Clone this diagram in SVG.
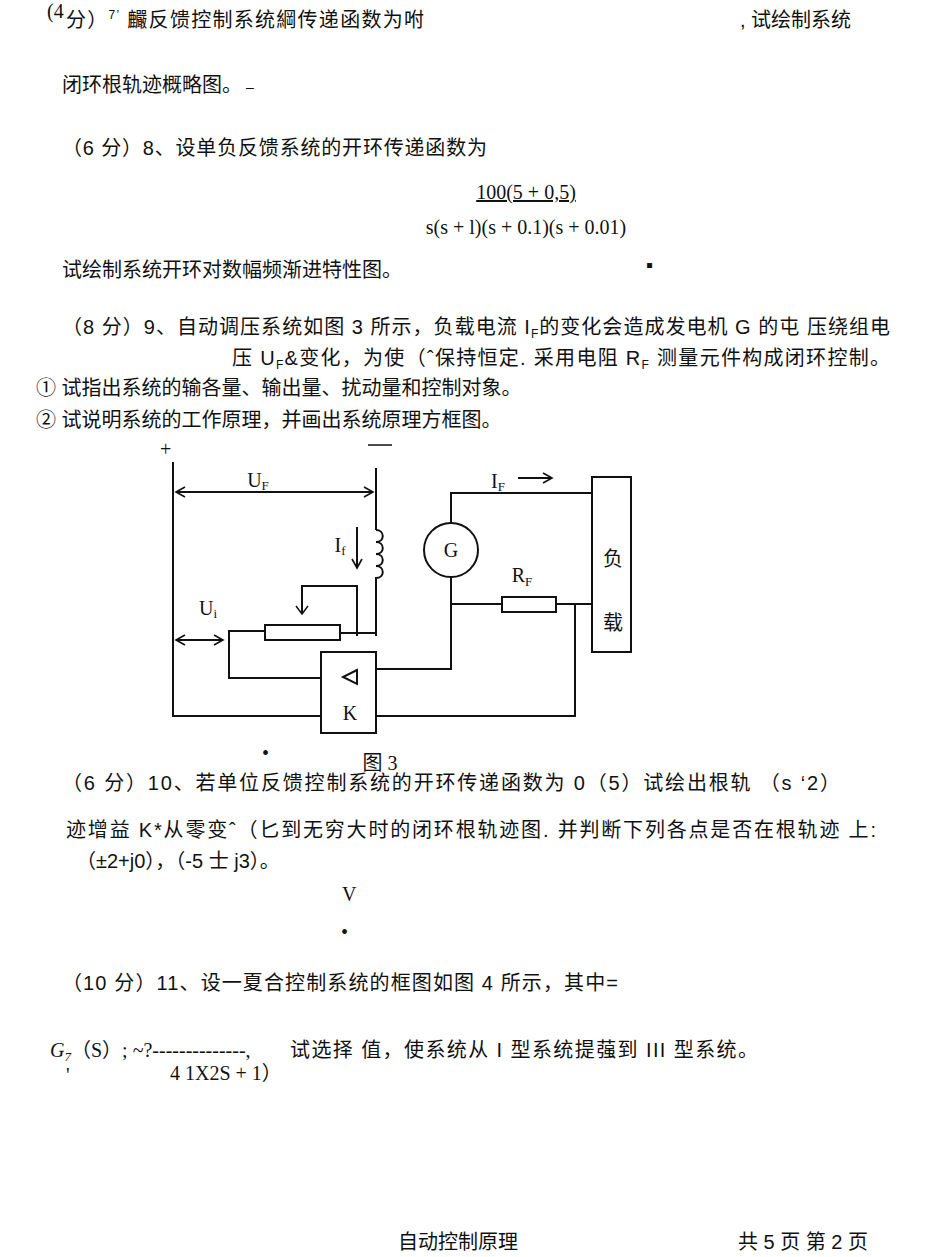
<svg xmlns="http://www.w3.org/2000/svg" width="950" height="1257" viewBox="0 0 950 1257">
<style>
.t{font-family:"Liberation Sans","Noto Sans CJK SC",sans-serif;font-size:20px;fill:#111}
.s{font-family:"Liberation Serif","Noto Sans CJK SC",serif;font-size:20px;fill:#111}
.w{fill:none;stroke:#111;stroke-width:2}
.c{font-family:"Liberation Serif","Noto Sans CJK SC",serif;font-size:20px;fill:#111;text-anchor:middle}
</style>
<defs><marker id="a" markerWidth="12" markerHeight="12" refX="10" refY="6" orient="auto-start-reverse" markerUnits="userSpaceOnUse"><path d="M1,1 L10,6 L1,11" fill="none" stroke="#111" stroke-width="1.6"/></marker></defs>
<rect width="950" height="1257" fill="#fff"/>
<g id="text">
<text class="s" x="47" y="18" font-size="11">(4</text>
<text class="t" x="66" y="27" textLength="358" lengthAdjust="spacing">分）<tspan font-size="12" dy="-8">7’</tspan><tspan dy="8"> 麣反馈控制系统綱传递函数为咐</tspan></text>
<text class="t" x="740" y="27">, 试绘制系统</text>
<text class="t" x="62" y="92">闭环根轨迹概略图。<tspan font-size="14"> –</tspan></text>
<text class="t" x="62" y="155" textLength="425" lengthAdjust="spacing">（6 分）8、设单负反馈系统的开环传递函数为</text>
<text class="c" x="526" y="199" font-size="22" text-decoration="underline">100(5 + 0,5)</text>
<text class="c" x="526" y="234" font-size="22">s(s + l)(s + 0.1)(s + 0.01)</text>
<text class="t" x="62" y="277">试绘制系统开环对数幅频渐进特性图。</text>
<text class="t" x="646" y="272" font-size="8">▪</text>
<text class="t" x="62" y="334" textLength="828" lengthAdjust="spacing">（8 分）9、自动调压系统如图 3 所示，负载电流 I<tspan font-size="12" dy="4">F</tspan><tspan dy="-4">的变化会造成发电机 G 的屯 压绕组电</tspan></text>
<text class="t" x="232" y="365" textLength="658" lengthAdjust="spacing">压 U<tspan font-size="12" dy="4">F</tspan><tspan dy="-4">&amp;变化，为使（ˆ保持恒定. 采用电阻 R</tspan><tspan font-size="12" dy="4">F</tspan><tspan dy="-4"> 测量元件构成闭环控制。</tspan></text>
<text class="t" x="36" y="395">①  试指出系统的输各量、输出量、扰动量和控制对象。</text>
<text class="t" x="36" y="427">②  试说明系统的工作原理，并画出系统原理方框图。</text>
<text class="t" x="62" y="790" textLength="778" lengthAdjust="spacing">（6 分）10、若单位反馈控制系统的开环传递函数为 0（5）试绘出根轨  （s ‘2）</text>
<text class="t" x="66" y="837" textLength="810" lengthAdjust="spacing">迹增益 K*从零变ˆ（匕到无穷大时的闭环根轨迹图. 并判断下列各点是否在根轨迹 上:</text>
<text class="t" x="76" y="868">（±2+j0），（-5 士 j3）。</text>
<text class="s" x="342" y="901" font-size="16">V</text>
<text class="s" x="341" y="939" font-size="16">•</text>
<text class="t" x="62" y="990" textLength="556" lengthAdjust="spacing">（10 分）11、设一夏合控制系统的框图如图 4 所示，其中=</text>
<text class="s" x="50" y="1057" font-style="italic">G<tspan font-size="13" dy="4">7</tspan><tspan dy="-4" font-style="normal">（S）; ~?--------------, </tspan></text>
<text class="t" x="290" y="1057" textLength="468" lengthAdjust="spacing">试选择 值，使系统从 I 型系统提蔃到 III 型系统。</text>
<text class="s" x="66" y="1082" font-size="12">'</text>
<text class="s" x="170" y="1080" font-size="14">4 1X2S + 1）</text>
<text class="t" x="398" y="1249">自动控制原理</text>
<text class="t" x="738" y="1249">共 5 页 第 2 页</text>
</g>
<g id="connectors">
<path class="w" d="M173,462 V716 H321"/>
<path class="w" d="M376,468 V530"/>
<path class="w" d="M376,530 c9,0 9,12 0,12 c9,0 9,12 0,12 c9,0 9,12 0,12 c9,0 9,12 0,12 V636"/>
<line class="w" x1="176" y1="492" x2="373" y2="492" marker-start="url(#a)" marker-end="url(#a)" stroke-width="1.5"/>
<line class="w" x1="357" y1="527" x2="357" y2="568" marker-end="url(#a)" stroke-width="1.5"/>
<path class="w" d="M340,633 H376 M357,636 V586 H302 V614" stroke-width="1.5"/>
<path d="M296,606 L302,614 L308,606" fill="none" stroke="#111" stroke-width="1.5"/>
<line class="w" x1="176" y1="640" x2="223" y2="640" marker-start="url(#a)" marker-end="url(#a)" stroke-width="1.5"/>
<path class="w" d="M265,631 H229 V678 H321"/>
<path class="w" d="M376,669 H451 V577 M451,523 V493 H592"/>
<path class="w" d="M451,604 H502 M556,604 H592 M575,604 V716 H376"/>
<line class="w" x1="518" y1="478" x2="552" y2="478" marker-end="url(#a)" stroke-width="1.5"/>
</g>
<g id="node-amp"><rect class="w" x="321" y="652" width="55" height="81"/><path class="w" d="M357,670 L343,677 L357,684 Z" stroke-width="1.8"/><text class="c" x="350" y="720" font-size="18">K</text></g>
<g id="node-pot"><rect class="w" x="265" y="625" width="75" height="15"/></g>
<g id="node-G"><circle class="w" cx="451" cy="550" r="27"/><text class="c" x="451" y="557" font-size="18">G</text></g>
<g id="node-RF"><rect class="w" x="502" y="597" width="54" height="15"/><text class="c" x="522" y="582">R<tspan font-size="13" dy="4">F</tspan></text></g>
<g id="node-load"><rect class="w" x="592" y="477" width="39" height="175"/><text class="c" x="613" y="566">负</text><text class="c" x="613" y="630">载</text></g>
<g id="labels">
<text class="s" x="160" y="456" font-size="16">+</text>
<line x1="368" y1="445" x2="392" y2="445" stroke="#111" stroke-width="1.5"/>
<text class="c" x="258" y="487">U<tspan font-size="13" dy="3">F</tspan></text>
<text class="c" x="340" y="552">I<tspan font-size="13" dy="3">f</tspan></text>
<text class="c" x="208" y="615">U<tspan font-size="13" dy="3">i</tspan></text>
<text class="c" x="498" y="488">I<tspan font-size="13" dy="3">F</tspan></text>
<text class="c" x="380" y="770" font-size="22">图 3</text>
<text class="s" x="262" y="760" font-size="12">•</text>
</g>
</svg>
